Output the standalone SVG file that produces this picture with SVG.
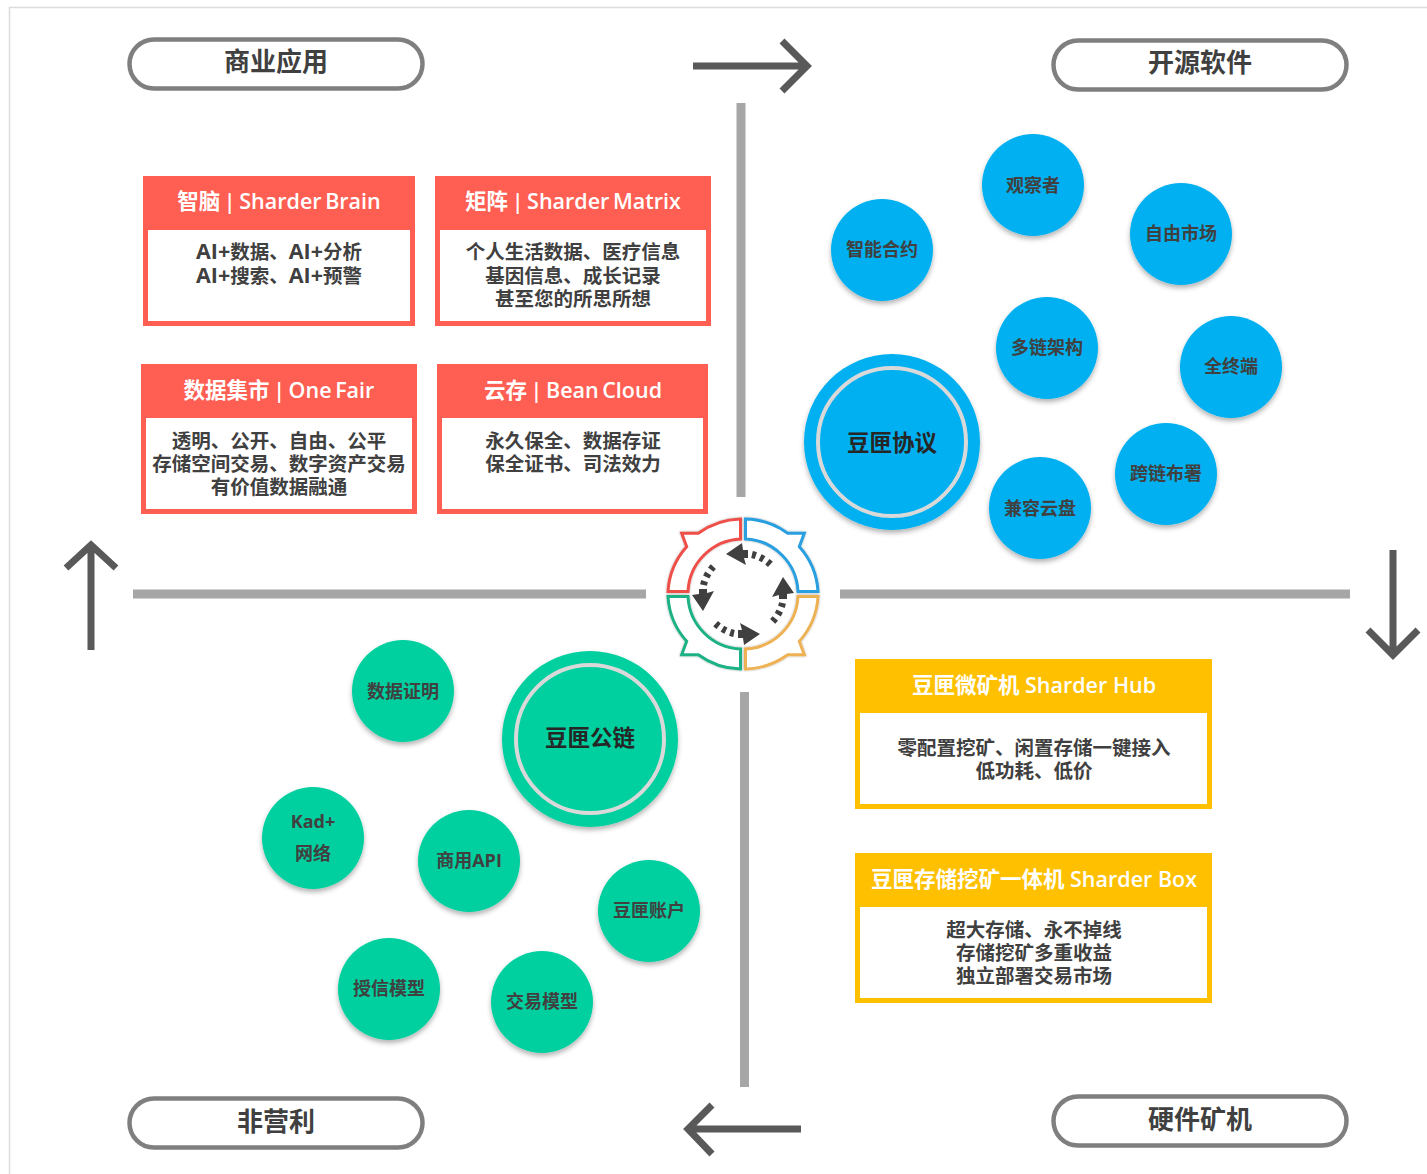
<svg xmlns="http://www.w3.org/2000/svg" xmlns:xlink="http://www.w3.org/1999/xlink" width="1427" height="1174" viewBox="0 0 1427 1174">
<style>
text{font-family:"Open Sans","Noto Sans CJK SC","Liberation Sans",sans-serif;text-anchor:middle}
.pill{fill:#fff;stroke:#7f7f7f;stroke-width:4.5}
.pt{font-size:26px;font-weight:700;fill:#404040}
.bar{stroke:#a6a6a6;stroke-width:9;fill:none}
.arr{stroke:#595959;stroke-width:7;fill:none}
.head{font-size:21.5px;font-weight:600;fill:#fff}
.tight{word-spacing:-2px}
.body{font-size:19.5px;font-weight:700;fill:#404040}
.lat{font-size:21.5px}
.red{fill:#fff;stroke:#ff5f53;stroke-width:5}
.redh{fill:#ff5f53}
.yel{fill:#fff;stroke:#ffc000;stroke-width:5}
.yelh{fill:#ffc000}
.b{fill:#00b0f0;filter:url(#sh)}
.g{fill:#04cf9f;filter:url(#sh)}
.ring{fill:none;stroke:#d9d9d9;stroke-width:4}
.st{font-size:18px;font-weight:700;fill:#404040}
.bt{font-size:22.5px;font-weight:700;fill:#262626}
.seg{fill:#fff;stroke-width:3;filter:url(#sh2)}
.dash{fill:none;stroke:#404040;stroke-width:7;stroke-dasharray:4 4.500}
.tip{fill:#404040}
</style>
<defs>
<filter id="sh" x="-20%" y="-20%" width="140%" height="140%"><feDropShadow dx="0" dy="3" stdDeviation="2.5" flood-color="#000" flood-opacity="0.3"/></filter>
<filter id="sh2" x="-10%" y="-10%" width="120%" height="120%"><feDropShadow dx="0" dy="0" stdDeviation="0.8" flood-color="#000" flood-opacity="0.35"/></filter>
<path id="seg" d="M-2.500,-75 A75,75 0 0 0 -44.700,-60.700 L-61.300,-60.700 L-56.300,-47.300 A73.500,73.500 0 0 0 -75,-2.500 L-55,-2.500 A55,55 0 0 1 -2.500,-55 Z"/>
<g id="spin"><path class="dash" d="M9,-39.500 A40,40 0 0 1 29,-28"/><path class="tip" d="M-17,-40 L-1,-51 L0,-44 L5,-44 L5,-36 L1,-36 L3,-29 Z"/></g>
</defs>
<rect width="1427" height="1174" fill="#fff"/>
<path d="M9.500,1174 V7.500 H1427" fill="none" stroke="#dcdcdc" stroke-width="1.500"/>

<g id="connectors">
<path class="bar" d="M741,103 V497"/>
<path class="bar" d="M744.500,692 V1087"/>
<path class="bar" d="M133,594 H646"/>
<path class="bar" d="M840,594 H1350"/>
<path class="arr" d="M693,66 H806 M782,41 L807,66 L782,91"/>
<path class="arr" d="M91,650 V546 M66,568 L91,545 L116,568"/>
<path class="arr" d="M1393,550 V654 M1368,630 L1393,655 L1418,630"/>
<path class="arr" d="M801,1129 H689 M712,1105 L688,1129 L712,1154"/>
</g>

<g id="cycle">
<g transform="translate(743,594)">
<use xlink:href="#seg" href="#seg" class="seg" stroke="#ee4f4a"/>
<use xlink:href="#seg" href="#seg" class="seg" stroke="#2a9fe0" transform="scale(-1,1)"/>
<use xlink:href="#seg" href="#seg" class="seg" stroke="#1fb285" transform="scale(1,-1)"/>
<use xlink:href="#seg" href="#seg" class="seg" stroke="#eeb255" transform="scale(-1,-1)"/>
<use xlink:href="#spin" href="#spin"/>
<use xlink:href="#spin" href="#spin" transform="rotate(90)"/>
<use xlink:href="#spin" href="#spin" transform="rotate(180)"/>
<use xlink:href="#spin" href="#spin" transform="rotate(270)"/>
</g>
</g>

<g id="pill-commercial"><rect class="pill" x="129.500" y="39.500" width="293" height="49" rx="24.500"/><text class="pt" x="276" y="71">商业应用</text></g>
<g id="pill-opensource"><rect class="pill" x="1053.500" y="40.500" width="293" height="49" rx="24.500"/><text class="pt" x="1200" y="72">开源软件</text></g>
<g id="pill-nonprofit"><rect class="pill" x="129.500" y="1098.500" width="293" height="49" rx="24.500"/><text class="pt" x="276" y="1131">非营利</text></g>
<g id="pill-hardware"><rect class="pill" x="1053.500" y="1096.500" width="293" height="49" rx="24.500"/><text class="pt" x="1200" y="1129">硬件矿机</text></g>

<g id="box-brain"><rect class="red" x="145.500" y="178.500" width="267" height="145"/><rect class="redh" x="143" y="176" width="272" height="54"/>
<text class="head tight" x="279" y="209">智脑 | Sharder Brain</text>
<text class="body" x="279" y="259"><tspan class="lat">AI+</tspan>数据、<tspan class="lat">AI+</tspan>分析</text><text class="body" x="279" y="283"><tspan class="lat">AI+</tspan>搜索、<tspan class="lat">AI+</tspan>预警</text></g>
<g id="box-matrix"><rect class="red" x="437.500" y="178.500" width="271" height="145"/><rect class="redh" x="435" y="176" width="276" height="54"/>
<text class="head tight" x="573" y="209">矩阵 | Sharder Matrix</text>
<text class="body" x="573" y="259">个人生活数据、医疗信息</text><text class="body" x="573" y="283">基因信息、成长记录</text><text class="body" x="573" y="306">甚至您的所思所想</text></g>
<g id="box-fair"><rect class="red" x="143.500" y="366.500" width="271" height="145"/><rect class="redh" x="141" y="364" width="276" height="54"/>
<text class="head tight" x="279" y="398">数据集市 | One Fair</text>
<text class="body" x="279" y="448">透明、公开、自由、公平</text><text class="body" x="279" y="471">存储空间交易、数字资产交易</text><text class="body" x="279" y="494">有价值数据融通</text></g>
<g id="box-cloud"><rect class="red" x="439.500" y="366.500" width="266" height="145"/><rect class="redh" x="437" y="364" width="271" height="54"/>
<text class="head tight" x="573" y="398">云存 | Bean Cloud</text>
<text class="body" x="573" y="448">永久保全、数据存证</text><text class="body" x="573" y="471">保全证书、司法效力</text></g>
<g id="box-hub"><rect class="yel" x="857.500" y="661.500" width="352" height="145"/><rect class="yelh" x="855" y="659" width="357" height="54"/>
<text class="head" x="1034" y="693">豆匣微矿机 Sharder Hub</text>
<text class="body" x="1034" y="755">零配置挖矿、闲置存储一键接入</text><text class="body" x="1034" y="778">低功耗、低价</text></g>
<g id="box-box"><rect class="yel" x="857.500" y="855.500" width="352" height="145"/><rect class="yelh" x="855" y="853" width="357" height="54"/>
<text class="head" x="1034" y="887">豆匣存储挖矿一体机 Sharder Box</text>
<text class="body" x="1034" y="937">超大存储、永不掉线</text><text class="body" x="1034" y="960">存储挖矿多重收益</text><text class="body" x="1034" y="983">独立部署交易市场</text></g>

<g id="protocol"><circle class="b" cx="892" cy="442" r="88"/><circle class="ring" cx="892" cy="442" r="74"/><text class="bt" x="892" y="451">豆匣协议</text></g>
<g id="n-observer"><circle class="b" cx="1033" cy="185" r="51"/><text class="st" x="1033" y="192">观察者</text></g>
<g id="n-market"><circle class="b" cx="1181" cy="234" r="51"/><text class="st" x="1181" y="240">自由市场</text></g>
<g id="n-contract"><circle class="b" cx="882" cy="250" r="51"/><text class="st" x="882" y="256">智能合约</text></g>
<g id="n-multichain"><circle class="b" cx="1047" cy="348" r="51"/><text class="st" x="1047" y="354">多链架构</text></g>
<g id="n-terminal"><circle class="b" cx="1231" cy="367" r="51"/><text class="st" x="1231" y="373">全终端</text></g>
<g id="n-cross"><circle class="b" cx="1166" cy="474" r="51"/><text class="st" x="1166" y="480">跨链布署</text></g>
<g id="n-compat"><circle class="b" cx="1040" cy="508" r="51"/><text class="st" x="1040" y="515">兼容云盘</text></g>

<g id="publicchain"><circle class="g" cx="590" cy="739" r="88"/><circle class="ring" cx="590" cy="739" r="74"/><text class="bt" x="590" y="746">豆匣公链</text></g>
<g id="n-proof"><circle class="g" cx="403" cy="691" r="51"/><text class="st" x="403" y="698">数据证明</text></g>
<g id="n-kad"><circle class="g" cx="313" cy="838" r="51"/><text class="st" x="313" y="828">Kad+</text><text class="st" x="313" y="860">网络</text></g>
<g id="n-api"><circle class="g" cx="469" cy="861" r="51"/><text class="st" x="469" y="867">商用API</text></g>
<g id="n-account"><circle class="g" cx="649" cy="911" r="51"/><text class="st" x="649" y="917">豆匣账户</text></g>
<g id="n-credit"><circle class="g" cx="389" cy="989" r="51"/><text class="st" x="389" y="995">授信模型</text></g>
<g id="n-trade"><circle class="g" cx="542" cy="1002" r="51"/><text class="st" x="542" y="1008">交易模型</text></g>
</svg>
